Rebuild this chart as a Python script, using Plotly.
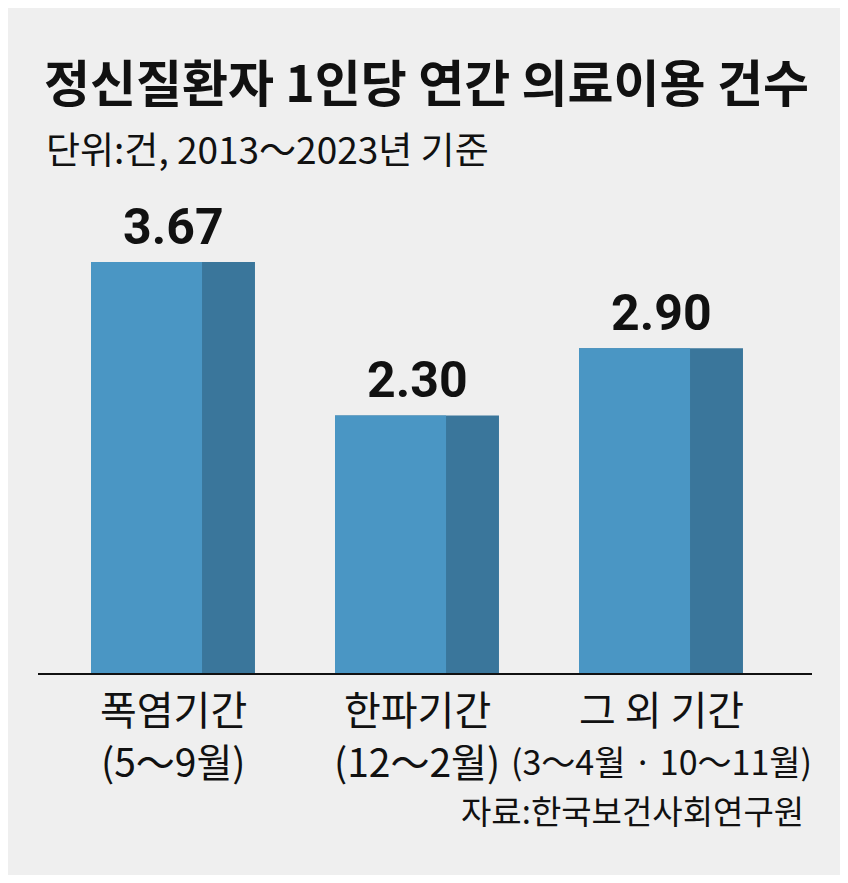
import plotly.graph_objects as go

# ---- data ----
categories = ["폭염기간", "한파기간", "그 외 기간"]
periods = ["(5～9월)", "(12～2월)", "(3～4월 · 10～11월)"]
values = [3.67, 2.30, 2.90]
value_labels = ["3.67", "2.30", "2.90"]

title_text = "정신질환자 1인당 연간 의료이용 건수"
subtitle_text = "단위:건, 2013～2023년 기준"
source_text = "자료:한국보건사회연구원"

# ---- styling ----
OFF = 8                      # page body margin of the browser
W, H = 848 - 2 * OFF, 883 - 2 * OFF
ML, MR, MT = 38 - OFF, 848 - 812 - OFF, 0
MB = H - (673 - OFF)
PW, PH = W - ML - MR, H - MT - MB
BG = "#efefef"
LIGHT = "#4a96c4"
DARK = "#3a769b"
KR = "Noto Sans CJK KR"
NUM = "Roboto, Noto Sans CJK KR"
period_sizes = [39, 39, 34]   # last label is set tighter to fit under its bar


def px_x(px):
    return (px - OFF - ML) / PW


def px_y(py):
    return (H - MB - (py - OFF)) / PH


x_pos = list(range(len(categories)))
full_w = 0.672
light_w = 0.455

fig = go.Figure()
fig.add_trace(go.Bar(
    x=x_pos, y=values, width=full_w, offset=-full_w / 2,
    marker=dict(color=DARK, line=dict(width=0)), hoverinfo="skip",
))
fig.add_trace(go.Bar(
    x=x_pos, y=values, width=light_w, offset=-full_w / 2,
    marker=dict(color=LIGHT, line=dict(width=0)), hoverinfo="skip",
))

ann = []
for xi, v, t in zip(x_pos, values, value_labels):
    ann.append(dict(x=xi, y=v, xref="x", yref="y", text=t, showarrow=False,
                    yanchor="bottom", yshift=4,
                    font=dict(family=NUM, size=50, color="#111111", weight="bold")))

for xi, c, p, ps in zip(x_pos, categories, periods, period_sizes):
    ann.append(dict(x=xi, y=px_y(708), xref="x", yref="paper", text=c,
                    showarrow=False, xanchor="center", yanchor="middle",
                    font=dict(family=KR, size=40, color="#111111")))
    ann.append(dict(x=xi, y=px_y(760), xref="x", yref="paper", text=p,
                    showarrow=False, xanchor="center", yanchor="middle",
                    font=dict(family=KR, size=ps, color="#111111")))

ann.append(dict(x=px_x(42), y=px_y(80), xref="paper", yref="paper", text=title_text,
                showarrow=False, xanchor="left", yanchor="middle",
                font=dict(family=KR, size=50, color="#111111", weight="bold")))
ann.append(dict(x=px_x(44), y=px_y(148), xref="paper", yref="paper", text=subtitle_text,
                showarrow=False, xanchor="left", yanchor="middle",
                font=dict(family=KR, size=37, color="#111111")))
ann.append(dict(x=px_x(806), y=px_y(810), xref="paper", yref="paper", text=source_text,
                showarrow=False, xanchor="right", yanchor="middle",
                font=dict(family=KR, size=33, color="#111111")))

fig.update_layout(
    width=W, height=H,
    margin=dict(l=ML, r=MR, t=MT, b=MB, pad=0),
    paper_bgcolor=BG, plot_bgcolor=BG,
    barmode="overlay", showlegend=False,
    annotations=ann,
    xaxis=dict(range=[-135 / 244, 2 + 151 / 244], showticklabels=False,
               showgrid=False, zeroline=False, ticks="",
               showline=True, linecolor="#111111", linewidth=2),
    yaxis=dict(range=[0, PH / 112], visible=False, showgrid=False, zeroline=False),
)

fig.write_html("out.html")
